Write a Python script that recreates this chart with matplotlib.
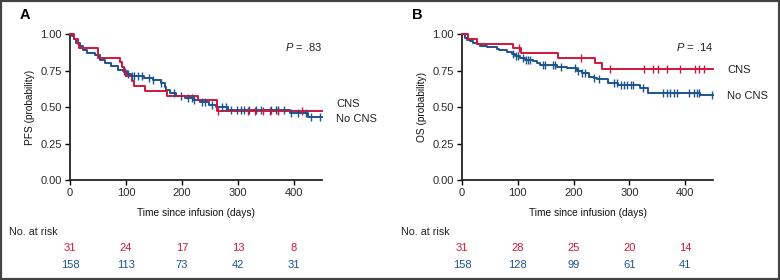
import numpy as np
import matplotlib
matplotlib.use("Agg")
import matplotlib.pyplot as plt
from matplotlib.patches import Rectangle

plt.rcParams['font.family'] = ['Liberation Sans', 'DejaVu Sans']
plt.rcParams['mathtext.fontset'] = 'custom'
plt.rcParams['mathtext.it'] = 'Liberation Sans:italic'
plt.rcParams['mathtext.rm'] = 'Liberation Sans'

RED = '#d2163c'
BLUE = '#1d548e'
GREY = '#2a2a2a'

# ---- panel A : PFS ----
pfs_cns_t = [0, 8, 14, 16, 50, 90, 93, 97, 100, 111, 114, 134, 173, 228, 262]
pfs_cns_s = [1.0, 0.968, 0.935, 0.903, 0.839, 0.806, 0.774, 0.742, 0.71, 0.677, 0.642,
             0.61, 0.573, 0.548, 0.475]
pfs_cns_cens = [99, 265, 318, 330, 345, 358, 372, 415]

pfs_no_t = [0, 4, 8, 11, 18, 24, 30, 44, 53, 62, 74, 86, 95, 101, 109, 133, 148, 163,
            169, 172, 178, 190, 205, 220, 233, 248, 260, 283, 393, 426]
pfs_no_s = [1.0, 0.985, 0.965, 0.94, 0.916, 0.89, 0.87, 0.86, 0.824, 0.80, 0.78, 0.755,
            0.745, 0.724, 0.712, 0.70, 0.683, 0.664, 0.64, 0.62, 0.596, 0.573, 0.56,
            0.548, 0.536, 0.514, 0.498, 0.479, 0.457, 0.434]
pfs_no_cens = [97, 104, 110, 115, 121, 128, 142, 148, 163, 186, 198, 210, 218, 221, 236,
               242, 254, 272, 278, 287, 299, 305, 311, 320, 332, 341, 359, 368, 372, 383,
               395, 407, 422, 431, 446]

# ---- panel B : OS ----
os_cns_t = [0, 11, 26, 92, 106, 172, 239, 251]
os_cns_s = [1.0, 0.968, 0.935, 0.903, 0.871, 0.839, 0.80, 0.762]
os_cns_cens = [103, 214, 266, 326, 343, 352, 367, 390, 418, 424, 433]

os_no_t = [0, 5, 9, 14, 20, 26, 33, 44, 62, 66, 80, 90, 95, 104, 112, 128, 134, 140,
           170, 188, 206, 215, 227, 236, 242, 262, 280, 319, 334, 427]
os_no_s = [1.0, 0.975, 0.963, 0.95, 0.94, 0.93, 0.922, 0.913, 0.9, 0.89, 0.877, 0.863,
           0.85, 0.838, 0.826, 0.815, 0.804, 0.788, 0.776, 0.765, 0.75, 0.735, 0.708,
           0.698, 0.69, 0.667, 0.651, 0.628, 0.598, 0.58]
os_no_cens = [92, 97, 100, 109, 115, 118, 121, 145, 148, 163, 166, 178, 202, 208, 215,
              221, 236, 245, 272, 278, 284, 290, 296, 302, 307, 325, 361, 367, 373, 380,
              386, 406, 415, 421, 424, 448]

risk_times = [0, 100, 200, 300, 400]
pfs_risk_cns = [31, 24, 17, 13, 8]
pfs_risk_no = [158, 113, 73, 42, 31]
os_risk_cns = [31, 28, 25, 20, 14]
os_risk_no = [158, 128, 99, 61, 41]

XMAX = 450


def km_line(ax, t, s, cens, color):
    t = np.array(t + [XMAX])
    s = np.array(s + [s[-1]])
    ax.step(t, s, where='post', color=color, lw=1.4, clip_on=False, zorder=3)
    idx = np.searchsorted(t, cens, side='right') - 1
    ax.plot(cens, s[idx], ls='none', marker='|', ms=5.5, mew=1.0, color=color,
            clip_on=False, zorder=4)


def panel(rect, letter, ylabel, pval, curves, risk, labels_y):
    ax = fig.add_axes(rect)
    for t, s, c, col in curves:
        km_line(ax, t, s, c, col)
    ax.set_xlim(0, XMAX)
    ax.set_ylim(0, 1.0)
    ax.set_xticks(risk_times)
    ax.set_yticks([0, 0.25, 0.5, 0.75, 1.0])
    ax.set_yticklabels(['0.00', '0.25', '0.50', '0.75', '1.00'])
    for sp in ['top', 'right']:
        ax.spines[sp].set_visible(False)
    for sp in ['left', 'bottom']:
        ax.spines[sp].set_linewidth(1.3)
        ax.spines[sp].set_color('#222222')
    ax.tick_params(direction='out', length=3.5, width=1, labelsize=8,
                   labelcolor=GREY, pad=2.5)
    ax.set_ylabel(ylabel, fontsize=7.3, color='#111111', labelpad=4)
    ax.text(0.5, -0.225, 'Time since infusion (days)', transform=ax.transAxes,
            ha='center', va='center', fontsize=7.3, color='#111111')
    ax.text(1.0, 0.91, r'$P$ = ' + pval, transform=ax.transAxes, ha='right',
            va='center', fontsize=8, color='#222222')
    ax.text(-0.198, 1.13, letter, transform=ax.transAxes, ha='left', va='center',
            fontsize=10.5, fontweight='bold', color='black')
    ax.text(1.056, labels_y[0], 'CNS', transform=ax.transAxes, ha='left',
            va='center', fontsize=8, color='#222222')
    ax.text(1.056, labels_y[1], 'No CNS', transform=ax.transAxes, ha='left',
            va='center', fontsize=8, color='#222222')
    ax.text(-0.243, -0.355, 'No. at risk', transform=ax.transAxes, ha='left',
            va='center', fontsize=7.7, color='#222222')
    tr = ax.get_xaxis_transform()
    for x, a, b in zip(risk_times, risk[0], risk[1]):
        ax.text(x, -0.466, str(a), transform=tr, ha='center', va='center',
                fontsize=8, color=RED, clip_on=False)
        ax.text(x, -0.582, str(b), transform=tr, ha='center', va='center',
                fontsize=8, color=BLUE, clip_on=False)
    return ax


fig = plt.figure(figsize=(7.8, 2.8), dpi=100)

panel([0.0897, 0.357, 0.323, 0.521], 'A', 'PFS (probability)', '.83',
      [(pfs_no_t, pfs_no_s, pfs_no_cens, BLUE),
       (pfs_cns_t, pfs_cns_s, pfs_cns_cens, RED)],
      (pfs_risk_cns, pfs_risk_no), (0.52, 0.418))

panel([0.5923, 0.357, 0.322, 0.521], 'B', 'OS (probability)', '.14',
      [(os_no_t, os_no_s, os_no_cens, BLUE),
       (os_cns_t, os_cns_s, os_cns_cens, RED)],
      (os_risk_cns, os_risk_no), (0.753, 0.575))

fig.patches.append(Rectangle((0, 0), 1, 1, transform=fig.transFigure, fill=False,
                             edgecolor='#444444', lw=3, zorder=10))

fig.savefig('out.png', dpi=100)
